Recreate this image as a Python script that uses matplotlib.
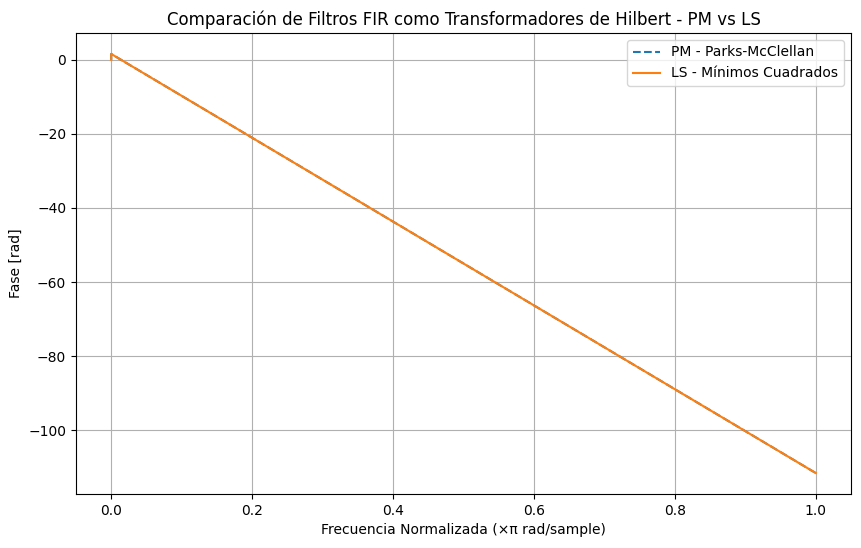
import matplotlib
matplotlib.use("Agg")
import matplotlib.pyplot as plt

freq = [0.0, 0.0, 0.25, 0.5, 0.75, 1.0]
phase_pm = [0.0, 1.57, -26.7, -54.98, -83.25, -111.53]
phase_ls = [0.0, 1.57, -26.7, -54.98, -83.25, -111.53]

fig = plt.figure(figsize=(8.62, 5.48), dpi=100)
ax = fig.add_axes([76/862, 1-494/548, (851-76)/862, (494-33)/548])
ax.plot(freq, phase_pm, '--', label='PM - Parks-McClellan')
ax.plot(freq, phase_ls, '-', label='LS - Mínimos Cuadrados')
ax.set_title('Comparación de Filtros FIR como Transformadores de Hilbert - PM vs LS')
ax.set_xlabel('Frecuencia Normalizada (×π rad/sample)')
ax.set_ylabel('Fase [rad]')
ax.grid(True)
ax.legend(loc='upper right')
fig.savefig('out.png', dpi=100)
